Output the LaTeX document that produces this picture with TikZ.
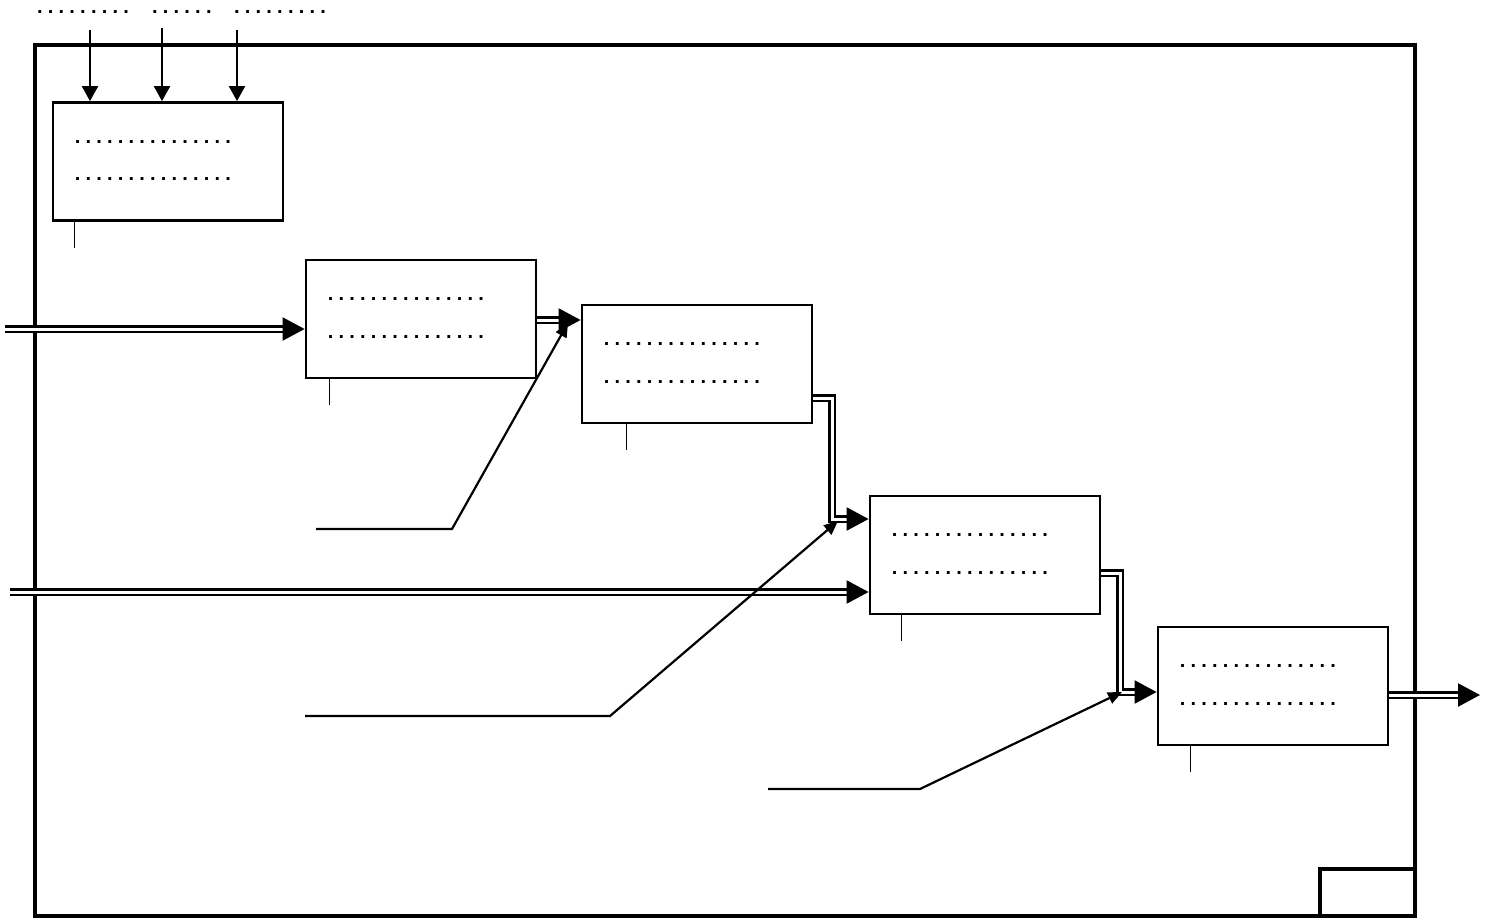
\documentclass[tikz,border=0pt]{standalone}
\usepackage{fontspec}
\setmainfont{Liberation Sans}
\newfontfamily\dotfont[LetterSpace=26]{Liberation Sans}
\usetikzlibrary{arrows.meta,calc}
\tikzset{
  frame/.style={draw, line width=3.4pt},
  stagebox/.style={draw, line width=2.8pt, minimum width=230pt, minimum height=118pt, inner sep=0pt},
  dotrow/.style={inner sep=0pt, anchor=base west, font=\dotfont\bfseries\fontsize{20}{20}\selectfont},
  tickline/.style={line width=1.6pt},
  thinarr/.style={line width=2.2pt, -{Triangle[length=15pt,width=16pt]}},
  leader/.style={line width=2.2pt, -{Triangle[length=14pt,width=12pt]}},
  dbl/.style={double, double distance=3pt, line width=2.2pt},
  bigtip/.style={line width=2.2pt, -{Triangle[length=22pt,width=23pt]}},
}
\newcommand\mkstage[4]{%
  \node[stagebox] (#1) at (#2,#3) {};
  \node[dotrow] (#1a) at ($(#1.north west)+(23,42)$) {...............};
  \node[dotrow] (#1b) at ($(#1.north west)+(23,79.5)$) {...............};
  \draw[tickline] ($(#1.south west)+(#4,0)$) -- ++(0,26);
}
\newcommand\dblarrow[2]{%
  \draw[dbl] #1 -- ($#2+(-20,0)$);
  \draw[bigtip] ($#2+(-22,0)$) -- #2;
}
\begin{document}
\begin{tikzpicture}[x=1pt,y=-1pt]
\useasboundingbox (0,0) rectangle (1494,921);
% outer frame
\draw[frame] (35,45) rectangle (1415,916);
\draw[frame] (1320,869) rectangle (1415,916);
% top labels
\node[dotrow] (l1) at (37,13) {.........};
\node[dotrow] (l2) at (152,13) {......};
\node[dotrow] (l3) at (234,13) {.........};
% stages
\mkstage{B0}{168}{161.5}{23}
\mkstage{B1}{421}{319}{25}
\mkstage{B2}{697}{364}{46}
\mkstage{B3}{985}{555}{33}
\mkstage{B4}{1273}{686}{34}
% top arrows
\coordinate (t1) at (90,30);
\coordinate (t2) at (162,28);
\coordinate (t3) at (237,30);
\draw[thinarr] (t1) -- (t1 |- B0.north);
\draw[thinarr] (t2) -- (t2 |- B0.north);
\draw[thinarr] (t3) -- (t3 |- B0.north);
% input 1
\coordinate (in1) at (5,329);
\coordinate (B1in) at ($(B1.west)+(0,10)$);
\dblarrow{(in1)}{(B1in)}
% B1 -> B2
\coordinate (B1out) at ($(B1.east)+(0,1)$);
\coordinate (B2in) at ($(B2.west)+(0,-44)$);
\dblarrow{(B1out)}{(B2in)}
% B2 -> B3
\coordinate (B2out) at ($(B2.east)+(0,34)$);
\coordinate (B3in) at ($(B3.west)+(0,-36)$);
\coordinate (e23) at (832,0);
\draw[dbl] (B2out) -| (e23 |- B3in) -- ($(B3in)+(-20,0)$);
\draw[bigtip] ($(B3in)+(-22,0)$) -- (B3in);
% input 2
\coordinate (in2) at (10,592);
\coordinate (B3in2) at ($(B3.west)+(0,37)$);
\dblarrow{(in2)}{(B3in2)}
% B3 -> B4
\coordinate (B3out) at ($(B3.east)+(0,18)$);
\coordinate (B4in) at ($(B4.west)+(0,6)$);
\coordinate (e34) at (1120,0);
\draw[dbl] (B3out) -| (e34 |- B4in) -- ($(B4in)+(-20,0)$);
\draw[bigtip] ($(B4in)+(-22,0)$) -- (B4in);
% output
\coordinate (B4out) at ($(B4.east)+(0,9)$);
\coordinate (out) at (1480,695);
\dblarrow{(B4out)}{(out)}
% leader lines
\coordinate (a1) at (316,529);
\coordinate (k1) at (452,529);
\coordinate (h1) at (568,323);
\draw[leader] (a1) -- (k1) -- (h1);
\coordinate (a2) at (305,716);
\coordinate (k2) at (610,716);
\coordinate (h2) at (838,521);
\draw[leader] (a2) -- (k2) -- (h2);
\coordinate (a3) at (768,789);
\coordinate (k3) at (920,789);
\coordinate (h3) at (1122,692);
\draw[leader] (a3) -- (k3) -- (h3);
\end{tikzpicture}
\end{document}
